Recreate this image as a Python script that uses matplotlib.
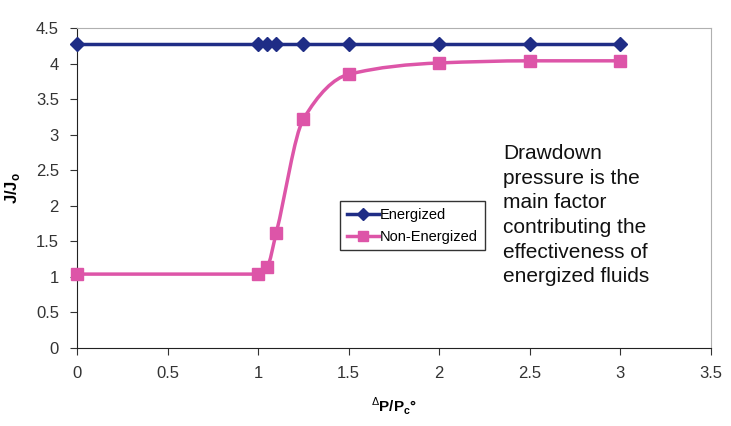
import numpy as np
import matplotlib
matplotlib.use("Agg")
import matplotlib.pyplot as plt
from matplotlib.path import Path
from matplotlib.patches import PathPatch
from matplotlib.lines import Line2D

plt.rcParams["font.family"] = ["Liberation Sans", "DejaVu Sans"]
plt.rcParams["mathtext.fontset"] = "custom"
plt.rcParams["mathtext.rm"] = "Liberation Sans"
plt.rcParams["mathtext.bf"] = "Liberation Sans:bold"

dp_ratio = [0, 1, 1.05, 1.1, 1.25, 1.5, 2, 2.5, 3]
energized = [4.28, 4.28, 4.28, 4.28, 4.28, 4.28, 4.28, 4.28, 4.28]
non_energized = [1.04, 1.04, 1.14, 1.62, 3.22, 3.85, 4.01, 4.04, 4.04]

navy = "#1f2d86"
pink = "#dd55a8"


def smooth_path(x, y):
    # smoothed line (monotone cubic tangents) drawn as bezier segments
    x = np.asarray(x, float)
    y = np.asarray(y, float)
    n = len(x)
    h = np.diff(x)
    d = np.diff(y) / h
    m = np.zeros(n)
    m[0], m[-1] = d[0], d[-1]
    for i in range(1, n - 1):
        if d[i - 1] * d[i] <= 0:
            m[i] = 0
        else:
            w1 = 2 * h[i] + h[i - 1]
            w2 = h[i] + 2 * h[i - 1]
            m[i] = (w1 + w2) / (w1 / d[i - 1] + w2 / d[i])
    verts = [(x[0], y[0])]
    codes = [Path.MOVETO]
    for i in range(n - 1):
        c1 = (x[i] + h[i] / 3, y[i] + m[i] * h[i] / 3)
        c2 = (x[i + 1] - h[i] / 3, y[i + 1] - m[i + 1] * h[i] / 3)
        verts += [c1, c2, (x[i + 1], y[i + 1])]
        codes += [Path.CURVE4] * 3
    return Path(verts, codes)


fig = plt.figure(figsize=(7.31, 4.26), dpi=100)
ax = fig.add_axes([0.1053, 0.183, 0.8673, 0.751])

ax.plot(dp_ratio, energized, color=navy, lw=2.5, marker="D", markersize=7,
        zorder=3, clip_on=False)
# pink smoothed line drawn in data coordinates, markers on top
ax.add_patch(PathPatch(smooth_path(dp_ratio, non_energized), facecolor="none",
                       edgecolor=pink, lw=2.5, zorder=2))
ax.plot(dp_ratio, non_energized, linestyle="none", marker="s", markersize=9,
        color=pink, zorder=4, clip_on=False)

ax.set_xlim(0, 3.5)
ax.set_ylim(0, 4.5)
ax.set_xticks(np.arange(0, 3.51, 0.5))
ax.set_yticks(np.arange(0, 4.51, 0.5))
ax.set_xticklabels(["0", "0.5", "1", "1.5", "2", "2.5", "3", "3.5"])
ax.set_yticklabels(["0", "0.5", "1", "1.5", "2", "2.5", "3", "3.5", "4", "4.5"])
ax.tick_params(labelsize=12, colors="#333333", direction="out", length=5,
               pad=8)
for s in ["top", "right"]:
    ax.spines[s].set_color("#b0b0b0")
for s in ["left", "bottom"]:
    ax.spines[s].set_color("#222222")

ax.set_ylabel(r"J/J$_\mathbf{o}$", fontsize=12, fontweight="bold", labelpad=10)
ax.set_xlabel(r"$^{\Delta}$P/P$_\mathbf{c}$°", fontsize=11, fontweight="bold",
              labelpad=10)

handles = [
    Line2D([], [], color=navy, lw=2.5, marker="D", markersize=6),
    Line2D([], [], color=pink, lw=2.5, marker="s", markersize=7),
]
leg = ax.legend(handles, ["Energized", "Non-Energized"], loc="upper left",
                bbox_to_anchor=(0.415, 0.459), fontsize=10.5, frameon=True,
                fancybox=False, edgecolor="black", handlelength=2.2,
                handletextpad=0.1, borderpad=0.45, labelspacing=0.55,
                borderaxespad=0)
leg.get_frame().set_linewidth(1.0)

fig.text(0.688, 0.662,
         "Drawdown\npressure is the\nmain factor\ncontributing the\n"
         "effectiveness of\nenergized fluids",
         fontsize=15, va="top", ha="left", linespacing=1.38, color="#111111")

fig.savefig("out.png", dpi=100)
